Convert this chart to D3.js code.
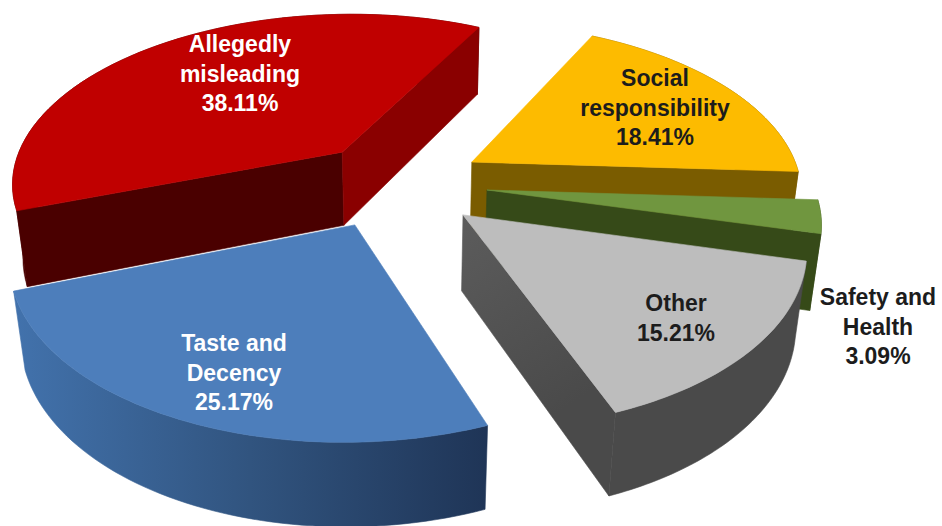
<!DOCTYPE html>
<html>
<head>
<meta charset="utf-8">
<style>
  html, body { margin: 0; padding: 0; background: #fff; }
  svg { display: block; }
  text { font-family: "Liberation Sans", Arial, sans-serif; font-weight: bold; font-size: 23px; text-anchor: middle; }
</style>
<script src="https://cdn.jsdelivr.net/npm/d3@7/dist/d3.min.js"></script>
</head>
<body>
<svg id="chart" width="942" height="526"></svg>
<script>
// Complaint categories, clockwise from the upper right of the pie
const categories = ["Social responsibility", "Safety and Health", "Other", "Taste and Decency", "Allegedly misleading"];
const shares = [18.41, 3.09, 15.21, 25.17, 38.11];
const labelLines = [
  ["Social", "responsibility", "18.41%"],
  ["Safety and", "Health", "3.09%"],
  ["Other", "15.21%"],
  ["Taste and", "Decency", "25.17%"],
  ["Allegedly", "misleading", "38.11%"]
];

// Styling per category
const topColors = ["#fdbb00", "#70963f", "#bdbdbd", "#4d7ebb", "#c00000"];
const startWallColors = ["#7a5c00", "#364a18", "#565656", "#2b4a75", "#4a0000"];
const endWallColors = ["#7a5c00", "#364a18", "url(#greyWall)", "#2b4a75", "#8a0000"];
const rimWallColors = ["#7a5c00", "#364a18", "#4a4a4a", "url(#blueWall)", "#4a0000"];
const textColors = ["#1c1c1c", "#1c1c1c", "#1c1c1c", "#fff", "#fff"];

// How far each slice is pulled out of the pie and its radius, in units of the pie radius
const pullOut = [[0.194, 0.17], [0.235, 0], [0.158, -0.144], [-0.163, -0.2], [-0.215, 0.233]];
const sliceRadius = [1.015, 1.0, 1.005, 1.0, 1.025];
const labelAnchors = [[655, 86], [878, 305], [676, 311], [234, 351], [240, 52]];
const lineGap = 29.5;

// Perspective camera looking down on a unit-radius pie lying in the z = 0 plane
const camera = { cx: 410, cy: 190, focal: 1703, dist: 5.2, pitch: 31 * Math.PI / 180 };
const wallHeight = 0.274;

function project(x, y, z) {
  const s = Math.sin(camera.pitch), c = Math.cos(camera.pitch);
  const w = camera.dist + y * c - z * s;
  return [camera.cx + camera.focal * x / w, camera.cy - camera.focal * (y * s + z * c) / w];
}

const svg = d3.select("#chart");
const defs = svg.append("defs");
const blueGrad = defs.append("linearGradient")
  .attr("id", "blueWall").attr("gradientUnits", "userSpaceOnUse")
  .attr("x1", 15).attr("y1", 0).attr("x2", 485).attr("y2", 0);
blueGrad.append("stop").attr("offset", "0").attr("stop-color", "#4272ac");
blueGrad.append("stop").attr("offset", "0.5").attr("stop-color", "#31547f");
blueGrad.append("stop").attr("offset", "1").attr("stop-color", "#1f3557");
const greyGrad = defs.append("linearGradient")
  .attr("id", "greyWall").attr("gradientUnits", "userSpaceOnUse")
  .attr("x1", 463).attr("y1", 215).attr("x2", 585).attr("y2", 395);
greyGrad.append("stop").attr("offset", "0").attr("stop-color", "#5c5c5c");
greyGrad.append("stop").attr("offset", "1").attr("stop-color", "#4a4a4a");

const firstAngle = 27 * Math.PI / 180;
const pie = d3.pie().sort(null).startAngle(firstAngle).endAngle(firstAngle + 2 * Math.PI);
const arcs = pie(shares);
const line = d3.line();

function polygon(g, pts, fill) {
  g.append("path").attr("d", line(pts) + "Z").attr("fill", fill).attr("stroke", fill).attr("stroke-width", 0.6);
}

// Far slices are painted first so that nearer ones overlap them
const paintOrder = [4, 0, 1, 2, 3];
paintOrder.forEach(i => {
  const a = arcs[i];
  const [ox, oy] = pullOut[i];
  const r = sliceRadius[i];
  const rim = d3.range(0, 61).map(t => {
    const th = a.startAngle + (a.endAngle - a.startAngle) * t / 60;
    return [ox + r * Math.sin(th), oy + r * Math.cos(th)];
  });
  const top = rim.map(p => project(p[0], p[1], 0));
  const bottom = rim.map(p => project(p[0], p[1], -wallHeight));
  const tipTop = project(ox, oy, 0), tipBottom = project(ox, oy, -wallHeight);
  const g = svg.append("g").attr("class", "slice").attr("data-category", categories[i]);

  // Rim wall, then whichever radial walls face the camera, then the top face
  polygon(g, top.concat(bottom.slice().reverse()), rimWallColors[i]);
  const wallStart = [tipTop, top[0], bottom[0], tipBottom];
  const wallEnd = [top[60], tipTop, tipBottom, bottom[60]];
  if (d3.polygonArea(wallStart) > 0) polygon(g, wallStart, startWallColors[i]);
  if (d3.polygonArea(wallEnd) > 0) polygon(g, wallEnd, endWallColors[i]);
  polygon(g, [tipTop].concat(top), topColors[i]);
});

// Category names and percentages
labelLines.forEach((lines, i) => {
  const t = svg.append("text").attr("fill", textColors[i]);
  lines.forEach((s, k) => {
    t.append("tspan").attr("x", labelAnchors[i][0]).attr("y", labelAnchors[i][1] + k * lineGap).text(s);
  });
});
</script>
</body>
</html>
